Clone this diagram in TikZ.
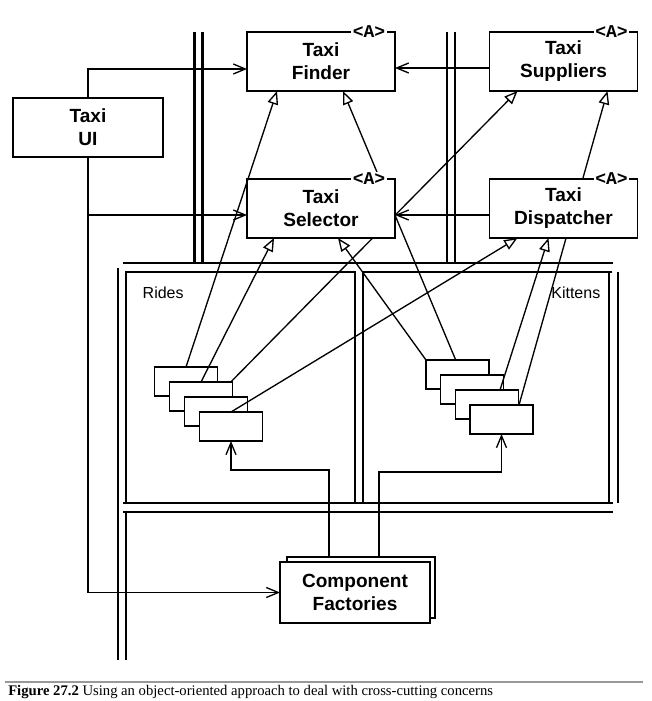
\documentclass[tikz,border=0pt]{standalone}
\usepackage{fontspec}
\setmainfont{Liberation Serif}
\newfontfamily\boxfont{Liberation Sans}
\newfontfamily\tagfont{Liberation Mono}
\usetikzlibrary{arrows.meta,calc,backgrounds}

\begin{document}
\begin{tikzpicture}[x=0.75pt,y=-0.75pt,
        box/.style={draw,fill=white,line width=1.1pt,inner sep=0pt,outer sep=0pt,
            minimum width=111pt,minimum height=44.25pt,align=center,
            font=\boxfont\bfseries\fontsize{14.3}{17.25}\selectfont},
        part/.style={draw,fill=white,line width=1.1pt,inner sep=0pt,outer sep=0pt,
            minimum width=47.25pt,minimum height=21.75pt},
        tag/.style={fill=white,inner sep=1pt,font=\tagfont\bfseries\fontsize{13.5}{13.5}\selectfont},
        pkg/.style={anchor=base,font=\boxfont\fontsize{12}{14}\selectfont},
        boundary/.style={line width=2pt},
        uses/.style={line width=1pt,-{Straight Barb[length=9pt,width=7.5pt]}},
        impl/.style={line width=1pt,-{Triangle[open,length=10pt,width=8pt]}}]
    \useasboundingbox (0,0) rectangle (651,701);

    \draw[boundary] (194.5,32) -- (194.5,263);
    \draw[boundary] (202.5,32) -- (202.5,263);
    \draw[boundary] (447,32) -- (447,263);
    \draw[boundary] (455,32) -- (455,263);
    \draw[boundary] (123,263) -- (613,263);
    \draw[boundary] (126,503) -- (126,272) -- (355,272) -- (355,503);
    \draw[boundary] (363,503) -- (363,272) -- (612,272);
    \draw[boundary] (609,272) -- (609,503);
    \draw[boundary] (618,272) -- (618,503);
    \draw[boundary] (123,503) -- (613,503);
    \draw[boundary] (123,512) -- (613,512);
    \draw[boundary] (118,268) -- (118,660);
    \draw[boundary] (126,512) -- (126,660);

    \node[pkg,anchor=base west] (label_rides) at (138,298) {Rides};
    \node[pkg,anchor=base east] (label_kittens) at (605,298) {Kittens};

    \node[box,minimum width=112.5pt] (ui) at (88,127.5) {Taxi\\UI};
    \node[box] (finder) at (321,61.5) {Taxi\\Finder};
    \node[box] (selector) at (321,208.5) {Taxi\\Selector};
    \node[box] (suppliers) at (563.5,61.5) {Taxi\\Suppliers};
    \node[box] (dispatcher) at (563.5,208.5) {Taxi\\Dispatcher};
    \node[tag] (tag_finder) at ($(finder.north east)+(-26,0)$) {<A>};
    \node[tag] (tag_selector) at ($(selector.north east)+(-26,0)$) {<A>};
    \node[tag] (tag_suppliers) at ($(suppliers.north east)+(-26,0)$) {<A>};
    \node[tag] (tag_dispatcher) at ($(dispatcher.north east)+(-26,0)$) {<A>};

    \node[part] (rides_1) at (186,381.5) {};
    \node[part] (rides_2) at (201,396.5) {};
    \node[part] (rides_3) at (216,411.5) {};
    \node[part] (rides_4) at (231,426.5) {};
    \node[part] (kittens_1) at (457.5,374.5) {};
    \node[part] (kittens_2) at (472,389.5) {};
    \node[part] (kittens_3) at (487,404.5) {};
    \node[part] (kittens_4) at (501.5,419.5) {};

    \node[box,minimum width=111pt,minimum height=45.75pt] (factories_back) at (361,587.5) {};
    \node[box,minimum width=112.5pt,minimum height=45.75pt] (factories) at (355,592.5) {Component\\Factories};

    \coordinate (finder_in) at ($(finder.west)+(0,7.5)$);
    \coordinate (selector_in) at ($(selector.west)+(0,6.5)$);

    \draw[uses] (ui.north) |- (finder_in);
    \draw[uses] (ui.south) |- (factories.west);
    \draw[uses] (ui.south |- selector_in) -- (selector_in);
    \draw[uses] ($(suppliers.west)+(0,6.5)$) -- ($(finder.east)+(0,6.5)$);
    \draw[uses] ($(dispatcher.west)+(0,6.5)$) -- ($(selector.east)+(0,6.5)$);
    \draw[uses] ($(factories_back.north)+(-32,0)$) -- ++(0,-87) -| (rides_4.south);
    \draw[uses] ($(factories_back.north)+(18,0)$) -- ++(0,-85) -| (kittens_4.south);

    \draw[impl] (rides_1.north) -- ($(finder.south west)+(30,0)$);
    \draw[impl] (rides_2.north) -- ($(selector.south west)+(27,0)$);
    \draw[impl] (rides_4.north) -- ($(dispatcher.south west)+(28,0)$);
    \draw[impl] (kittens_1.north west) -- ($(selector.south west)+(91,0)$);
    \draw[impl] ($(kittens_3.north)+(13,0)$) -- ($(dispatcher.south west)+(59,0)$);
    \begin{scope}[on background layer]
        \draw[impl] (rides_3.north) -- ($(suppliers.south west)+(28,0)$);
        \draw[impl] ($(kittens_2.north)+(-10,0)$) -- ($(finder.south west)+(96,0)$);
        \draw[impl] ($(kittens_4.north)+(17.5,0)$) -- ($(suppliers.south west)+(118,0)$);
    \end{scope}

    \draw[line width=2.2pt,black!40] (5,682) -- (643,682);
    \node[anchor=base west,inner sep=0pt,font=\fontsize{11}{13}\selectfont] (caption) at (8,695)
        {\textbf{Figure 27.2} Using an object-oriented approach to deal with cross-cutting concerns};
\end{tikzpicture}
\end{document}
